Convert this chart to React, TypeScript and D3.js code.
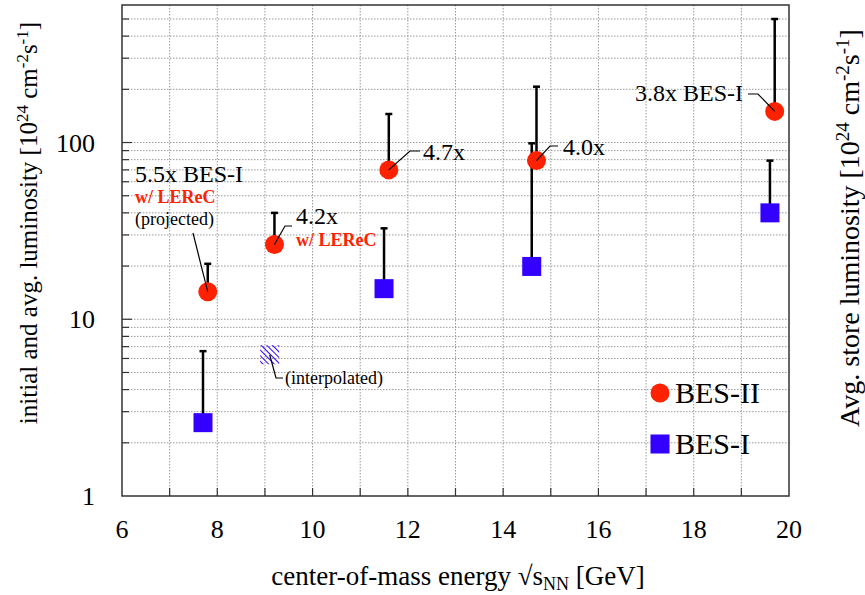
import React from "react";
import * as d3 from "d3";

// BES-II (red circles): energy, luminosity, upper error end
const besIIEnergy = [7.8, 9.2, 11.6, 14.7, 19.7];
const besIILum = [14.3, 26.5, 70, 79, 150];
const besIIMax = [20.6, 40, 145, 207, 500];

// BES-I (blue squares)
const besIEnergy = [7.7, 11.5, 14.6, 19.6];
const besILum = [2.6, 14.9, 19.9, 40];
const besIMax = [6.6, 32.7, 99, 79];

// interpolated BES-I point
const interpEnergy = [9.1];
const interpLum = [6.3];

const xTicks = [6, 8, 10, 12, 14, 16, 18, 20];
const yTicks = [1, 10, 100];

const W = 865;
const H = 595;
const FONT = "'Liberation Serif', 'Times New Roman', serif";
const RED = "#ff2200";
const BLUE = "#3300ff";

export default function App() {
  const x = d3.scaleLinear().domain([6, 20]).range([122, 789]);
  const y = d3.scaleLog().domain([1, 600]).range([496, 5]);
  const [x0, x1] = x.range();
  const [y0, y1] = y.range();

  const vGrid = d3.range(7, 20);
  const hGrid: number[] = [];
  [1, 10, 100].forEach((d) => {
    for (let k = 1; k < 10; k++) {
      const v = d * k;
      if (v > 1 && v < 600) hGrid.push(v);
    }
  });

  const cap = 3.5;
  const r = 9.5;
  const sq = 19;

  return (
    <svg
      width={W}
      height={H}
      style={{ position: "absolute", left: 0, top: 0, background: "#fff" }}
      fontFamily={FONT}
    >
      <defs>
        <pattern
          id="hatch"
          patternUnits="userSpaceOnUse"
          width={4}
          height={4}
          patternTransform="rotate(-45)"
        >
          <line x1={0} y1={0} x2={0} y2={4} stroke={BLUE} strokeWidth={2} />
        </pattern>
      </defs>

      {/* grid */}
      <g stroke="#9a9a9a" strokeWidth={1} strokeDasharray="1.5,1.5">
        {vGrid.map((d) => (
          <line key={"v" + d} x1={x(d)} x2={x(d)} y1={y1} y2={y0} />
        ))}
        {hGrid.map((d) => (
          <line key={"h" + d} x1={x0} x2={x1} y1={y(d)} y2={y(d)} />
        ))}
      </g>

      {/* axis ticks */}
      <g stroke="#333" strokeWidth={1.2}>
        {d3.range(7, 20).map((d) => (
          <line key={"bt" + d} x1={x(d)} x2={x(d)} y1={y0} y2={y0 - 8} />
        ))}
        {hGrid.map((d) => (
          <line
            key={"lt" + d}
            x1={x0}
            x2={x0 + (yTicks.includes(d) ? 10 : 7)}
            y1={y(d)}
            y2={y(d)}
          />
        ))}
      </g>

      {/* frame */}
      <rect
        x={x0}
        y={y1}
        width={x1 - x0}
        height={y0 - y1}
        fill="none"
        stroke="#333"
        strokeWidth={1.5}
      />

      {/* tick labels */}
      <g fontSize={26} fill="#000" fontFamily={FONT}>
        {xTicks.map((d) => (
          <text key={"xl" + d} x={x(d)} y={538} textAnchor="middle">
            {d}
          </text>
        ))}
        {yTicks.map((d) => (
          <text key={"yl" + d} x={95} y={y(d) + 9} textAnchor="end">
            {d}
          </text>
        ))}
      </g>

      {/* axis titles */}
      <text x={458} y={585} fontSize={27} textAnchor="middle" fontFamily={FONT}>
        center-of-mass energy √s
        <tspan fontSize={18} dy={5}>NN</tspan>
        <tspan dy={-5}> [GeV]</tspan>
      </text>
      <text
        transform={`translate(37,223) rotate(-90)`}
        fontSize={25}
        textAnchor="middle"
        fontFamily={FONT}
      >
        initial and avg. luminosity [10
        <tspan fontSize={17} dy={-9}>24</tspan>
        <tspan dy={9}> cm</tspan>
        <tspan fontSize={17} dy={-9}>-2</tspan>
        <tspan dy={9}>s</tspan>
        <tspan fontSize={17} dy={-9}>-1</tspan>
        <tspan dy={9}>]</tspan>
      </text>
      <text
        transform={`translate(859,228) rotate(-90)`}
        fontSize={28}
        textAnchor="middle"
        fontFamily={FONT}
      >
        Avg. store luminosity [10
        <tspan fontSize={19} dy={-10}>24</tspan>
        <tspan dy={10}> cm</tspan>
        <tspan fontSize={19} dy={-10}>-2</tspan>
        <tspan dy={10}>s</tspan>
        <tspan fontSize={19} dy={-10}>-1</tspan>
        <tspan dy={10}>]</tspan>
      </text>

      {/* error bars (upward only) */}
      <g stroke="#000" strokeWidth={2.5}>
        {besIEnergy.map((e, i) => (
          <g key={"eb1" + i}>
            <line x1={x(e)} x2={x(e)} y1={y(besILum[i])} y2={y(besIMax[i])} />
            <line
              x1={x(e) - cap}
              x2={x(e) + cap}
              y1={y(besIMax[i])}
              y2={y(besIMax[i])}
            />
          </g>
        ))}
        {besIIEnergy.map((e, i) => (
          <g key={"eb2" + i}>
            <line x1={x(e)} x2={x(e)} y1={y(besIILum[i])} y2={y(besIIMax[i])} />
            <line
              x1={x(e) - cap}
              x2={x(e) + cap}
              y1={y(besIIMax[i])}
              y2={y(besIIMax[i])}
            />
          </g>
        ))}
      </g>

      {/* markers */}
      {besIEnergy.map((e, i) => (
        <rect
          key={"s" + i}
          x={x(e) - sq / 2}
          y={y(besILum[i]) - sq / 2}
          width={sq}
          height={sq}
          fill={BLUE}
        />
      ))}
      {interpEnergy.map((e, i) => (
        <rect
          key={"hs" + i}
          x={x(e) - sq / 2}
          y={y(interpLum[i]) - sq / 2}
          width={sq}
          height={sq}
          fill="url(#hatch)"
        />
      ))}
      {besIIEnergy.map((e, i) => (
        <circle
          key={"c" + i}
          cx={x(e)}
          cy={y(besIILum[i])}
          r={r}
          fill={RED}
        />
      ))}

      {/* annotations */}
      <g stroke="#000" strokeWidth={1.2} fill="none">
        <polyline points={`193,233 ${x(besIIEnergy[0])},${y(besIILum[0])}`} />
        <polyline
          points={`${x(besIIEnergy[1])},${y(besIILum[1])} 285,226 292,226`}
        />
        <polyline
          points={`${x(besIIEnergy[2])},${y(besIILum[2])} 410,151 420,151`}
        />
        <polyline
          points={`${x(besIIEnergy[3])},${y(besIILum[3])} 550,146 558,146`}
        />
        <polyline
          points={`${x(besIIEnergy[4])},${y(besIILum[4])} 758,94 748,94`}
        />
        <polyline
          points={`${x(interpEnergy[0])},${y(interpLum[0])} 276,378 283,378`}
        />
      </g>
      <g fontSize={24} fill="#000" fontFamily={FONT}>
        <text x={135} y={182}>5.5x BES-I</text>
        <text x={296} y={224}>4.2x</text>
        <text x={423} y={160}>4.7x</text>
        <text x={563} y={155}>4.0x</text>
        <text x={743} y={101} textAnchor="end">3.8x BES-I</text>
      </g>
      <g fontSize={18} fill={RED} fontWeight="bold" fontFamily={FONT}>
        <text x={135} y={203}>w/ LEReC</text>
        <text x={296} y={246}>w/ LEReC</text>
      </g>
      <g fontSize={18} fill="#000" fontFamily={FONT}>
        <text x={135} y={225}>(projected)</text>
        <text x={285} y={384}>(interpolated)</text>
      </g>

      {/* legend */}
      <circle cx={660} cy={393} r={r} fill={RED} />
      <text x={675} y={403} fontSize={30} fontFamily={FONT}>BES-II</text>
      <rect x={660 - sq / 2} y={444 - sq / 2} width={sq} height={sq} fill={BLUE} />
      <text x={675} y={454} fontSize={30} fontFamily={FONT}>BES-I</text>
    </svg>
  );
}
